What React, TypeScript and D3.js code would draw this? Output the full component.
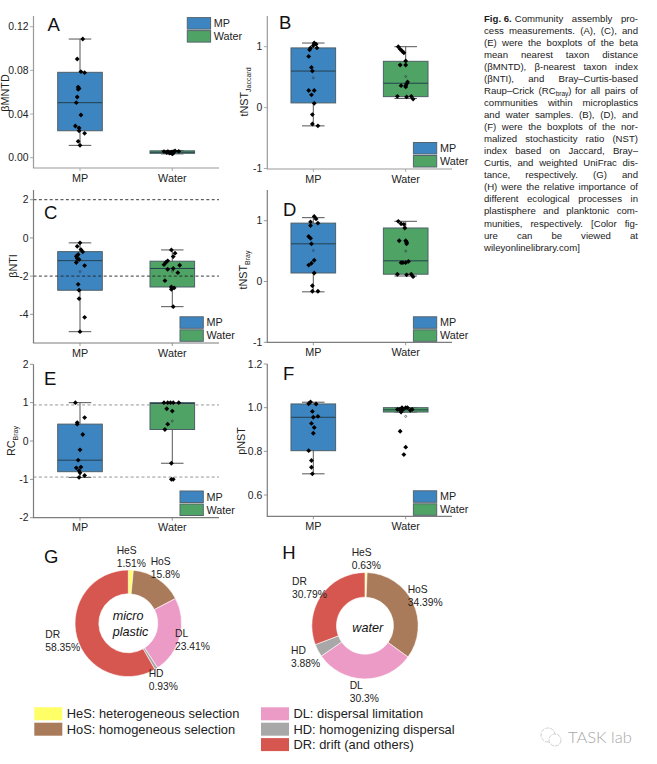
import React from 'react';
import * as d3 from 'd3';

type Pt = [number, number]; // [jitter in category units, value]
type Box = { q1: number, med: number, q3: number, lo: number, hi: number, mean: number };

const categories = ['MP', 'Water'];
const legendColors = ['#3d85c1', '#4fa364'];

// A: beta MNTD
const aTicks = [0, 0.04, 0.08, 0.12];
const aMp: Pt[] = [[.03,.1087],[-.03,.0904],[.01,.0788],[.05,.0779],[-.02,.0647],[-.01,.0635],[-.02,.0626],[-.03,.0556],[-.04,.0504],[.01,.0391],[-.05,.029],[-.01,.0272],[-.01,.0247],[.05,.0223],[-.02,.015],[0,.0113]];
const aWater: Pt[] = [[-.09,.0056],[-.06,.0048],[-.04,.0052],[-.02,.0046],[0,.0035],[.01,.0056],[.01,.0042],[.03,.0062],[.07,.0058],[-.01,.005],[-.03,.0042],[-.05,.0055]];
const aBoxes: Box[] = [
  { q1: .0247, med: .0504, q3: .0782, lo: .0113, hi: .1087, mean: .0504 },
  { q1: .004, med: .005, q3: .0063, lo: .0035, hi: .0066, mean: .005 },
];

// B: tNST Jaccard
const bTicks = [-1, 0, 1];
const bMp: Pt[] = [[.01,1.06],[.03,1.04],[0,1.02],[.04,.98],[-.03,.98],[-.04,.95],[-.05,.84],[-.02,.66],[-.01,.6],[-.05,.28],[.01,.28],[-.02,.21],[.01,.07],[-.01,-.115],[-.01,-.27],[.05,-.3]];
const bWater: Pt[] = [[-.08,1],[-.06,.96],[-.04,.93],[-.02,.9],[0,.765],[-.06,.7],[0,.7],[.02,.42],[.01,.39],[0,.36],[-.05,.36],[0,.34],[-.09,.185],[.01,.175],[.06,.185],[.08,.14]];
const bBoxes: Box[] = [
  { q1: .077, med: .6, q3: .98, lo: -.3, hi: 1.06, mean: .49 },
  { q1: .18, med: .4, q3: .76, lo: .15, hi: 1, mean: .51 },
];

// C: beta NTI
const cTicks = [-4, -2, 0, 2];
const cLines = [2, -2];
const cMp: Pt[] = [[0,-.26],[-.03,-.44],[.01,-.61],[.03,-.73],[-.02,-.87],[-.04,-.96],[-.03,-1.08],[-.01,-1.13],[-.04,-1.29],[.05,-1.45],[-.02,-2.43],[-.01,-2.74],[-.01,-3.18],[.05,-4.16],[0,-4.91]];
const cWater: Pt[] = [[-.01,-.63],[.03,-.8],[.01,-.98],[-.05,-1.2],[-.07,-1.29],[-.09,-1.4],[.08,-1.43],[-.05,-1.64],[.01,-1.6],[.06,-1.82],[-.08,-2.24],[-.01,-2.57],[.02,-2.62],[-.01,-2.69],[.01,-3.6]];
const cBoxes: Box[] = [
  { q1: -2.74, med: -1.19, q3: -.72, lo: -4.91, hi: -.26, mean: -1.76 },
  { q1: -2.57, med: -1.6, q3: -1.22, lo: -3.6, hi: -.63, mean: -1.75 },
];

// D: tNST Bray
const dTicks = [-1, 0, 1];
const dMp: Pt[] = [[.01,1.07],[.03,1.03],[-.03,.98],[.05,.96],[-.03,.92],[-.05,.74],[-.03,.71],[-.02,.62],[.01,.35],[-.02,.3],[-.05,.27],[.01,.14],[-.01,-.07],[-.01,-.16],[.05,-.16]];
const dWater: Pt[] = [[-.08,.99],[-.05,.95],[-.02,.94],[-.01,.88],[-.07,.67],[0,.67],[.01,.645],[.01,.62],[.03,.33],[0,.31],[-.03,.31],[-.05,.31],[-.09,.12],[.01,.11],[.06,.12],[.08,.08]];
const dBoxes: Box[] = [
  { q1: .14, med: .62, q3: .96, lo: -.17, hi: 1.05, mean: .51 },
  { q1: .12, med: .34, q3: .88, lo: .09, hi: .99, mean: .5 },
];

// E: RC Bray
const eTicks = [-2, -1, 0, 1, 2];
const eLines = [.94, -.94];
const eMp: Pt[] = [[-.05,1],[.05,.61],[-.03,.48],[-.03,.44],[.03,.17],[0,-.23],[-.02,-.5],[-.04,-.7],[.01,-.68],[-.01,-.77],[0,-.83],[.05,-.9],[-.01,-.95]];
const eWater: Pt[] = [[-.09,1],[-.05,1],[-.02,1],[.01,1],[.07,1],[-.06,.84],[0,.78],[-.05,.44],[-.08,.3],[-.01,-.58],[-.01,-1],[.01,-1]];
const eBoxes: Box[] = [
  { q1: -.8, med: -.5, q3: .44, lo: -.95, hi: 1, mean: -.2 },
  { q1: .3, med: .98, q3: 1, lo: -.58, hi: 1, mean: .52 },
];

// F: pNST
const fTicks = [.6, .8, 1, 1.2];
const fMp: Pt[] = [[-.03,1.026],[-.05,1.018],[.03,1.017],[-.01,.983],[.05,.96],[0,.956],[-.02,.928],[.01,.909],[0,.883],[-.05,.803],[-.02,.758],[-.02,.727],[-.01,.697]];
const fWater: Pt[] = [[-.09,.992],[-.07,.992],[-.05,.98],[-.03,.991],[0,1],[.02,1],[-.04,1],[.05,.988],[.07,.992],[-.06,.892],[0,.819],[-.02,.785]];
const fBoxes: Box[] = [
  { q1: .803, med: .956, q3: 1.017, lo: .697, hi: 1.025, mean: .956 },
  { q1: .98, med: .99, q3: 1, lo: .98, hi: 1, mean: .96 },
];

// donuts
const processNames = ['HeS', 'HoS', 'DL', 'HD', 'DR'];
const processColors = ['#ffff66', '#a97b5a', '#ec9ac6', '#a8a8a8', '#d65650'];
const microValues = [1.51, 15.8, 23.41, 0.93, 58.35];
const waterValues = [0.63, 34.39, 30.3, 3.88, 30.79];
const microLabels = ['1.51%', '15.8%', '23.41%', '0.93%', '58.35%'];
const waterLabels = ['0.63%', '34.39%', '30.3%', '3.88%', '30.79%'];
const legendLeft = ['HeS: heterogeneous selection', 'HoS: homogeneous selection'];
const legendRight = ['DL: dispersal limitation', 'HD: homogenizing dispersal', 'DR: drift (and others)'];

const captionLines = [
  'Community assembly pro-',
  'cess measurements. (A), (C), and',
  '(E) were the boxplots of the beta',
  'mean nearest taxon distance',
  '(βMNTD), β-nearest taxon index',
  '(βNTI), and Bray–Curtis-based',
  'Raup–Crick (RC_bray) for all pairs of',
  'communities within microplastics',
  'and water samples. (B), (D), and',
  '(F) were the boxplots of the nor-',
  'malized stochasticity ratio (NST)',
  'index based on Jaccard, Bray–',
  'Curtis, and weighted UniFrac dis-',
  'tance, respectively. (G) and',
  '(H) were the relative importance of',
  'different ecological processes in',
  'plastisphere and planktonic com-',
  'munities, respectively. [Color fig-',
  'ure can be viewed at',
  'wileyonlinelibrary.com]',
];

const font = '"Liberation Sans", Arial, sans-serif';
const textColor = '#222';

type PanelProps = {
  letter: string, letterX: number, letterY: number,
  x0: number, xEnd: number, xMp: number, xWater: number,
  top: number, bottom: number,
  yDomain: number[], yRange: number[], ticks: number[], fmt: string,
  label: string, sub?: string, labelX: number, labelY: number,
  legendX: number, legendY: number,
  mp: Pt[], water: Pt[], boxes: Box[],
  lines?: number[], lineColor?: string, axisColor: string, showMean: boolean[],
}

const Panel: React.FC<PanelProps> = (p) => {
  const xScale = d3.scaleLinear().domain([0, 1]).range([p.xMp, p.xWater]);
  const yScale = d3.scaleLinear().domain(p.yDomain).range(p.yRange);
  const boxHalf = 0.2415;
  const capHalf = 0.122;
  const diamond = d3.symbol().type(d3.symbolDiamond2).size(15)() as string;
  const format = d3.format(p.fmt);
  return (
    <g fontFamily={font}>
      {p.boxes.map((b, i) => (
        <g key={i}>
          <line x1={xScale(i)} x2={xScale(i)} y1={yScale(b.lo)} y2={yScale(b.hi)} stroke="#555" strokeWidth={1}/>
          <line x1={xScale(i - capHalf)} x2={xScale(i + capHalf)} y1={yScale(b.lo)} y2={yScale(b.lo)} stroke="#555" strokeWidth={1}/>
          <line x1={xScale(i - capHalf)} x2={xScale(i + capHalf)} y1={yScale(b.hi)} y2={yScale(b.hi)} stroke="#555" strokeWidth={1}/>
          <rect x={xScale(i - boxHalf)} width={xScale(i + boxHalf) - xScale(i - boxHalf)} y={yScale(b.q3)} height={yScale(b.q1) - yScale(b.q3)}
            fill={legendColors[i]} stroke="#4d5f68" strokeWidth={1}/>
          <line x1={xScale(i - boxHalf)} x2={xScale(i + boxHalf)} y1={yScale(b.med)} y2={yScale(b.med)} stroke="#24404f" strokeWidth={1}/>
          {p.showMean[i] && <circle cx={xScale(i)} cy={yScale(b.mean)} r={1} fill="none" stroke="#334" strokeWidth={0.6}/>}
        </g>
      ))}
      {(p.lines || []).map(v => (
        <line key={v} x1={p.x0} x2={p.xEnd} y1={yScale(v)} y2={yScale(v)} stroke={p.lineColor} strokeWidth={0.9} strokeDasharray="3 2.4"/>
      ))}
      {[p.mp, p.water].map((pts, i) => pts.map((d, j) => (
        <path key={`${i}-${j}`} d={diamond} transform={`translate(${xScale(i + d[0])},${yScale(d[1])})`} fill="#000"/>
      )))}
      <line x1={p.x0} x2={p.x0} y1={p.top} y2={p.bottom} stroke={p.axisColor} strokeWidth={1.2}/>
      <line x1={p.x0 - 0.6} x2={p.xEnd} y1={p.bottom} y2={p.bottom} stroke={p.axisColor} strokeWidth={1.2}/>
      {p.ticks.map(t => (
        <g key={t} transform={`translate(${p.x0},${yScale(t)})`}>
          <line x2={-3.5} stroke={p.axisColor} strokeWidth={0.8}/>
          <text x={-5} dy="0.36em" fontSize={10.4} textAnchor="end" fill={textColor}>{format(t).replace('−', '-')}</text>
        </g>
      ))}
      {categories.map((c, i) => (
        <g key={c} transform={`translate(${xScale(i)},${p.bottom})`}>
          <line y2={3} stroke={p.axisColor} strokeWidth={0.8}/>
          <text y={13.5} fontSize={10.8} textAnchor="middle" fill={textColor}>{c}</text>
        </g>
      ))}
      <text transform={`translate(${p.labelX},${p.labelY}) rotate(-90)`} textAnchor="middle" fontSize={10.8} fill={textColor}>
        {p.label}{p.sub && <tspan dy={3} fontSize={7}>{p.sub}</tspan>}
      </text>
      <text x={p.letterX} y={p.letterY} fontSize={18.5} fill="#111">{p.letter}</text>
      {categories.map((c, i) => (
        <g key={c} transform={`translate(${p.legendX},${p.legendY + i * 13})`}>
          <rect width={23.3} height={11.5} fill={legendColors[i]} stroke="#55656e" strokeWidth={1}/>
          <text x={26.5} y={9.6} fontSize={10.8} fill={textColor}>{c}</text>
        </g>
      ))}
    </g>
  );
}

type DonutProps = {
  cx: number, cy: number, outer: number, inner: number, values: number[],
  labels: string[], labelPos: number[][],
}

const Donut: React.FC<DonutProps> = ({cx, cy, outer, inner, values, labels, labelPos}) => {
  const arcs = d3.pie<number>().sort(null)(values);
  const arc = d3.arc<d3.PieArcDatum<number>>().innerRadius(inner).outerRadius(outer);
  return (
    <g fontFamily={font}>
      <g transform={`translate(${cx},${cy})`}>
        {arcs.map((a, i) => (
          <path key={i} d={arc(a) as string} fill={processColors[i]} stroke="#fff" strokeWidth={0.6}/>
        ))}
      </g>
      {processNames.map((n, i) => (
        <text key={n} fontSize={10.3} fill={textColor} x={labelPos[i][0]} y={labelPos[i][1]}>
          {n}
          <tspan x={labelPos[i][0]} dy={13}>{labels[i]}</tspan>
        </text>
      ))}
    </g>
  );
}

const Caption: React.FC = () => {
  const left = 484;
  const right = 638;
  const size = 9.6;
  const ctx = document.createElement('canvas').getContext('2d') as CanvasRenderingContext2D;
  const measure = (s: string, bold = false, sz = size) => {
    ctx.font = `${bold ? 'bold ' : ''}${sz}px ${font}`;
    return ctx.measureText(s).width;
  };
  return (
    <g fontFamily={font} fontSize={size} fill="#1a1a1a">
      {captionLines.map((line, i) => {
        const y = 22 + i * 12.03;
        const words = line.split(' ');
        const widths = words.map(w => w.includes('_')
          ? measure(w.split('_')[0]) + measure(w.split('_')[1], false, 6.5)
          : measure(w));
        const start = i === 0 ? left + measure('Fig. 6.', true) + 3 : left;
        const total = d3.sum(widths);
        const justified = i < captionLines.length - 1;
        const gap = justified ? (right - start - total) / (words.length - 1) : measure(' ');
        let x = start;
        return (
          <g key={i}>
            {i === 0 && <text x={left} y={y} fontWeight="bold">Fig. 6.</text>}
            {words.map((w, j) => {
              const wx = x;
              x += widths[j] + gap;
              if (w.includes('_')) {
                const [a, b] = w.split('_');
                const m = b.match(/^(\w+)(.*)$/) as RegExpMatchArray;
                return <text key={j} x={wx} y={y}>{a}<tspan dy={2} fontSize={6.5}>{m[1]}</tspan><tspan dy={-2}>{m[2]}</tspan></text>;
              }
              return <text key={j} x={wx} y={y}>{w}</text>;
            })}
          </g>
        );
      })}
    </g>
  );
}

const App: React.FC = () => {
  const leftCol = { x0: 33.5, xEnd: 219, xMp: 80, xWater: 172.3 };
  const rightCol = { x0: 267.3, xEnd: 452, xMp: 313.3, xWater: 405.7 };
  return (
    <svg width={657} height={764} style={{position: 'absolute', left: 0, top: 0, background: '#fff'}}>
      <Panel {...leftCol} letter="A" letterX={47.5} letterY={30.5} top={16} bottom={168}
        yDomain={[0, 0.12]} yRange={[157.7, 26.7]} ticks={aTicks} fmt=".2f"
        label="βMNTD" labelX={9} labelY={93} legendX={187.3} legendY={17.6}
        mp={aMp} water={aWater} boxes={aBoxes} axisColor="#9a9a9a" showMean={[false, false]}/>
      <Panel {...rightCol} letter="B" letterX={279} letterY={29.3} top={16} bottom={169}
        yDomain={[-1, 1]} yRange={[168.5, 46.7]} ticks={bTicks} fmt="d"
        label="tNST" sub="Jaccard" labelX={248} labelY={92} legendX={413.4} legendY={142.5}
        mp={bMp} water={bWater} boxes={bBoxes} axisColor="#9a9a9a" showMean={[true, true]}/>
      <Panel {...leftCol} letter="C" letterX={44} letterY={219} top={190} bottom={343}
        yDomain={[-4, 2]} yRange={[314.3, 199.7]} ticks={cTicks} fmt="d"
        label="βNTI" labelX={17} labelY={266} legendX={180} legendY={316.8}
        mp={cMp} water={cWater} boxes={cBoxes} lines={cLines} lineColor="#222" axisColor="#7d7d7d" showMean={[true, true]}/>
      <Panel {...rightCol} letter="D" letterX={283} letterY={215.7} top={190} bottom={342.3}
        yDomain={[-1, 1]} yRange={[342.3, 220.7]} ticks={dTicks} fmt="d"
        label="tNST" sub="Bray" labelX={247} labelY={270} legendX={413.4} legendY={316.8}
        mp={dMp} water={dWater} boxes={dBoxes} axisColor="#7d7d7d" showMean={[true, true]}/>
      <Panel {...leftCol} letter="E" letterX={44} letterY={385} top={364.3} bottom={517.7}
        yDomain={[-2, 2]} yRange={[517.7, 364.3]} ticks={eTicks} fmt="d"
        label="RC" sub="Bray" labelX={15} labelY={441} legendX={180} legendY={491}
        mp={eMp} water={eWater} boxes={eBoxes} lines={eLines} lineColor="#8a8a8a" axisColor="#7d7d7d" showMean={[false, true]}/>
      <Panel {...rightCol} letter="F" letterX={283} letterY={380} top={364} bottom={516.3}
        yDomain={[0.6, 1.2]} yRange={[495, 364]} ticks={fTicks} fmt=".1f"
        label="pNST" labelX={245} labelY={441} legendX={413.4} legendY={490.8}
        mp={fMp} water={fWater} boxes={fBoxes} axisColor="#7d7d7d" showMean={[false, true]}/>

      <Donut cx={128.3} cy={623.3} outer={53.3} inner={29.5} values={microValues} labels={microLabels}
        labelPos={[[116.7, 554], [150.7, 565], [175, 637.3], [148.7, 677], [45.3, 638]]}/>
      <Donut cx={365} cy={625.7} outer={53.2} inner={28.5} values={waterValues} labels={waterLabels}
        labelPos={[[351.7, 555.7], [407.7, 593.3], [349.7, 689.3], [291, 653.7], [292, 585]]}/>
      <g fontFamily={font} fill="#111">
        <text x={44} y={563.3} fontSize={18.5}>G</text>
        <text x={282.3} y={559} fontSize={18.5}>H</text>
        <g fontSize={12.6} fontStyle="italic">
          <text x={112.7} y={619.7}>micro</text>
          <text x={112.7} y={635.7}>plastic</text>
          <text x={367.7} y={632} textAnchor="middle">water</text>
        </g>
      </g>
      <g fontFamily={font} fontSize={12.9} fill={textColor}>
        {legendLeft.map((t, i) => (
          <g key={t} transform={`translate(34.3,${707.3 + i * 15.4})`}>
            <rect width={28} height={13} fill={processColors[i]}/>
            <text x={32.4} y={10.8}>{t}</text>
          </g>
        ))}
        {legendRight.map((t, i) => (
          <g key={t} transform={`translate(261,${707.3 + i * 15.4})`}>
            <rect width={28} height={13} fill={processColors[i + 2]}/>
            <text x={32.4} y={10.8}>{t}</text>
          </g>
        ))}
      </g>
      <Caption/>
      <g fill="none" stroke="#c4c4c4" strokeWidth={0.8}>
        <circle cx={548} cy={735} r={7} strokeDasharray="4 1"/>
        <circle cx={555} cy={740} r={6} strokeDasharray="4 1" fill="#fff"/>
      </g>
      <text x={568} y={743} fontFamily="Lato, sans-serif" fontWeight={300} fontSize={16.5} fill="#a8a8a8">TASK lab</text>
    </svg>
  );
}

export default App;
